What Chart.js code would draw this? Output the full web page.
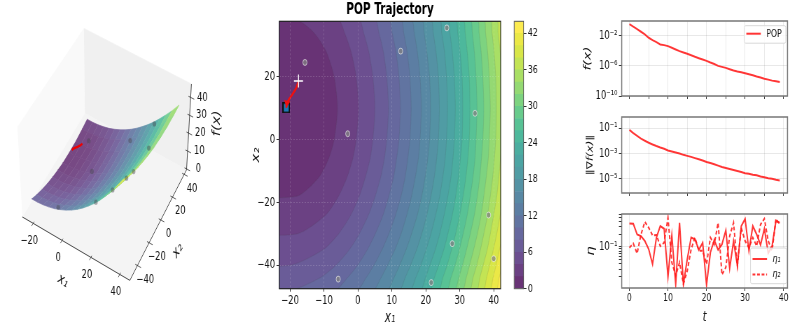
<!doctype html>
<html>
<head>
<meta charset="utf-8">
<title>POP Trajectory</title>
<script src="https://cdn.jsdelivr.net/npm/chart.js@4"></script>
<style>
html, body { margin: 0; background: #fff; overflow: hidden; width: 793px; height: 327px; }
/* the source figure is squeezed sideways and soft, so every panel is drawn wide and scaled down */
canvas { position: absolute; transform-origin: 0 0; transform: scaleX(0.7); filter: blur(0.35px); }
</style>
</head>
<body>
<script>
const SQ = 0.7;

// sampled particles (x1, x2) and their height on the surface
const particleX1 = [-15.6, 12.6, 26.2, 34.5, -3, 38.5, 27.8, 40, -5.8, 21.6];
const particleX2 = [24.6, 28.2, 35.6, 8.4, 1.9, -24, -33.1, -37.9, -44.4, -45.5];
const particleF = [0.8, 10.9, 21.4, 27.4, 3, 34.3, 25.7, 38.7, 9.3, 23.7];

// trajectory, start is the white cross, end is the blue square
const trajX1 = [-17.5, -18.2, -19.2, -20.2, -20.9, -21.1];
const trajX2 = [18.7, 16.4, 14.6, 13, 11.6, 10.2];
const trajF = [1.9, 1.9, 1.9, 1.9, 1.9, 1.9];

const t = [...Array(40).keys()];
const popF = [3.6e-1, 1.6e-1, 7.8e-2, 3.4e-2, 1.5e-2, 5.4e-3, 2.6e-3, 1.4e-3, 6.9e-4, 5.7e-4,
  4.2e-4, 2.5e-4, 1.5e-4, 9.1e-5, 6.0e-5, 4.0e-5, 2.6e-5, 1.6e-5, 1.05e-5, 6.9e-6,
  4.6e-6, 2.8e-6, 1.8e-6, 1.0e-6, 7.4e-7, 5.4e-7, 3.6e-7, 2.4e-7, 1.75e-7, 1.4e-7,
  1.05e-7, 7.8e-8, 5.7e-8, 3.8e-8, 2.8e-8, 2.0e-8, 1.5e-8, 1.1e-8, 9.1e-9, 7.4e-9];
const popGrad = [7.4e-2, 4.0e-2, 2.45e-2, 1.48e-2, 1.02e-2, 7.1e-3, 5.2e-3, 3.9e-3, 3.0e-3, 2.4e-3,
  1.74e-3, 1.45e-3, 1.2e-3, 1.0e-3, 7.8e-4, 6.5e-4, 5.4e-4, 4.3e-4, 3.5e-4, 2.8e-4,
  2.1e-4, 1.8e-4, 1.4e-4, 1.1e-4, 8.5e-5, 7.1e-5, 5.9e-5, 4.9e-5, 4.1e-5, 3.4e-5,
  2.8e-5, 2.5e-5, 2.1e-5, 1.9e-5, 1.5e-5, 1.35e-5, 1.1e-5, 1.0e-5, 8.3e-6, 7.4e-6];
const eta1 = [.359, .352, .198, .181, .138, .088, .039, .166, .311, .269,
  .0198, .188, .0133, .372, .0133, .051, .166, .151, .085, .126,
  .0126, .074, .146, .085, .115, .246, .031, .138, .036, .311,
  .461, .081, .311, .198, .111, .269, .071, .105, .407, .372];
const eta2 = [.096, .12, .07, .198, .392, .284, .188, .191, .105, .126,
  .487, .043, .021, .043, .0133, .027, .088, .166, .081, .081,
  .039, .166, .115, .372, .022, .033, .181, .372, .036, .284,
  .138, .096, .166, .105, .34, .461, .138, .081, .461, .34];

// contour lines: x1 position of each level along contourX2, null = off the left edge
const contourLevels = [2, 4, 6, 8, 10, 12, 14, 16, 18, 20, 22, 24, 26, 28, 30, 32, 34, 36, 38, 40, 42, 44];
const contourX2 = [-48, -44, -40, -35, -30, -24, -18, -12, -6, 0, 10, 20, 28, 34, 38];
const contourX1 = [
  [null, null, null, null, null, null, -18, -11.5, -8.6, -7, -6, -7, -9.3, -12.9, -18],
  [null, null, null, null, -18, -9.5, -5.7, -3.2, -1.5, -.5, .2, -.5, -2, -3.9, -5.7],
  [null, null, -20, -10.2, -5.7, -2.1, .4, 2.2, 3.6, 4.4, 5, 4.4, 3.2, 1.7, .4],
  [-20, -11.2, -6.5, -2.5, .4, 3.1, 5.1, 6.7, 7.8, 8.5, 9, 8.5, 7.5, 6.2, 5.1],
  [-6.9, -3.1, -.1, 2.8, 5.1, 7.4, 9.1, 10.5, 11.4, 12.1, 12.5, 12.1, 11.2, 10.1, 9.1],
  [-.4, 2.4, 4.7, 7.1, 9.1, 11.1, 12.7, 13.9, 14.7, 15.3, 15.7, 15.3, 14.5, 13.5, 12.7],
  [4.4, 6.8, 8.7, 10.9, 12.7, 14.4, 15.8, 16.9, 17.8, 18.3, 18.7, 18.3, 17.5, 16.6, 15.8],
  [8.5, 10.6, 12.3, 14.2, 15.8, 17.5, 18.8, 19.8, 20.6, 21.1, 21.4, 21.1, 20.3, 19.5, 18.8],
  [12.1, 13.9, 15.5, 17.3, 18.8, 20.3, 21.5, 22.5, 23.2, 23.7, 24, 23.7, 23, 22.2, 21.5],
  [15.3, 17, 18.5, 20.1, 21.5, 22.9, 24.1, 25, 25.7, 26.1, 26.4, 26.1, 25.5, 24.7, 24.1],
  [18.3, 19.9, 21.2, 22.8, 24.1, 25.4, 26.5, 27.4, 28, 28.4, 28.7, 28.4, 27.8, 27.1, 26.5],
  [21.1, 22.5, 23.8, 25.3, 26.5, 27.8, 28.8, 29.6, 30.2, 30.7, 30.9, 30.7, 30.1, 29.4, 28.8],
  [23.7, 25, 26.3, 27.6, 28.8, 30, 31, 31.8, 32.4, 32.8, 33, 32.8, 32.2, 31.6, 31],
  [26.1, 27.4, 28.6, 29.9, 31, 32.2, 33.1, 33.9, 34.5, 34.8, 35.1, 34.8, 34.3, 33.7, 33.1],
  [28.4, 29.7, 30.8, 32, 33.1, 34.3, 35.2, 35.9, 36.4, 36.8, 37.1, 36.8, 36.3, 35.7, 35.2],
  [30.7, 31.9, 32.9, 34.1, 35.2, 36.3, 37.1, 37.8, 38.4, 38.7, 39, 38.7, 38.2, 37.6, 37.1],
  [32.8, 33.9, 35, 36.1, 37.1, 38.2, 39, 39.7, 40.2, 40.6, 40.8, 40.6, 40.1, 39.5, 39],
  [34.9, 35.9, 36.9, 38.1, 39, 40, 40.9, 41.5, 42, 42.4, 42.6, 42.4, 41.9, 41.3, 40.9],
  [36.8, 37.9, 38.8, 39.9, 40.9, 41.9, 42.7, 43.3, 43.8, 44.1, 44.3, 44.1, 43.7, 43.1, 42.7],
  [38.7, 39.8, 40.7, 41.7, 42.7, 43.6, 44.4, 45, 45.5, 45.8, 46, 45.8, 45.4, 44.8, 44.4],
  [40.6, 41.6, 42.5, 43.5, 44.4, 45.3, 46.1, 46.7, 47.2, 47.5, 47.7, 47.5, 47, 46.5, 46.1],
  [60, 60, 60, 60, 60, 60, 60, 60, 60, 60, 60, 60, 60, 60, 60]
];

// surface heights for the 3d view, one row per surfaceX2 value
const surfaceX1 = [-23, -19, -15, -11, -7, -3, 1, 5, 9, 13, 17, 21, 25, 29, 33, 37, 42];
const surfaceX2 = [-47.5, -40, -32, -24, -16, -8, 0, 10, 20, 30, 37.7];
const surfaceF = [
  [8.1, 8.1, 8.4, 9, 9.8, 11, 12.4, 14.1, 16.1, 18.4, 21, 23.8, 26.9, 30.4, 34.1, 38, 43.4],
  [6.1, 6.1, 6.4, 7, 7.8, 9, 10.4, 12.1, 14.1, 16.4, 19, 21.8, 24.9, 28.4, 32.1, 36, 41.4],
  [4.3, 4.3, 4.6, 5.2, 6, 7.2, 8.6, 10.3, 12.3, 14.6, 17.2, 20, 23.1, 26.6, 30.3, 34.2, 39.6],
  [2.8, 2.8, 3.1, 3.7, 4.5, 5.7, 7.1, 8.8, 10.8, 13.1, 15.7, 18.5, 21.6, 25.1, 28.8, 32.7, 38.1],
  [1.7, 1.7, 2, 2.6, 3.4, 4.6, 6, 7.7, 9.7, 12, 14.6, 17.4, 20.5, 24, 27.7, 31.6, 37],
  [.8, .8, 1.1, 1.7, 2.5, 3.7, 5.1, 6.8, 8.8, 11.1, 13.7, 16.5, 19.6, 23.1, 26.8, 30.7, 36.1],
  [.2, .2, .5, 1.1, 1.9, 3.1, 4.5, 6.2, 8.2, 10.5, 13.1, 15.9, 19, 22.5, 26.2, 30.1, 35.5],
  [0, 0, .3, .9, 1.7, 2.9, 4.3, 6, 8, 10.3, 12.9, 15.7, 18.8, 22.3, 26, 29.9, 35.3],
  [.2, .2, .5, 1.1, 1.9, 3.1, 4.5, 6.2, 8.2, 10.5, 13.1, 15.9, 19, 22.5, 26.2, 30.1, 35.5],
  [1, 1, 1.3, 1.9, 2.7, 3.9, 5.3, 7, 9, 11.3, 13.9, 16.7, 19.8, 23.3, 27, 30.9, 36.3],
  [1.9, 1.9, 2.2, 2.8, 3.6, 4.8, 6.2, 7.9, 9.9, 12.2, 14.8, 17.6, 20.7, 24.2, 27.9, 31.8, 37.2]
];

const x1Ticks = [-20, -10, 0, 10, 20, 30, 40];
const x2Ticks = [-40, -20, 0, 20];
const barTicks = [0, 6, 12, 18, 24, 30, 36, 42];
const x1Ticks3d = [-20, 0, 20, 40];
const x2Ticks3d = [-40, -20, 0, 20, 40];
const zTicks3d = [0, 10, 20, 30, 40];
const tTicksTop = [0, 5, 10, 15, 20, 25, 30, 35, 40];
const tTicksBottom = [0, 10, 20, 30, 40];
const fTicks = [1e-2, 1e-6, 1e-10];
const gradTicks = [1e-1, 1e-3, 1e-5];
const etaTicks = [.02, .03, .04, .05, .06, .07, .08, .09, .1, .2, .3, .4, .5, .6];

const viridis = ['#440154', '#471365', '#482475', '#463480', '#414487', '#3b528b', '#355f8d', '#2f6c8e',
  '#2a788e', '#25848e', '#218f8d', '#1f9a8a', '#22a884', '#2fb47c', '#44bf70', '#5ec962',
  '#7ad151', '#95d840', '#b5de2b', '#d0e11c', '#e7e419', '#fde725'];

const FONT = '"DejaVu Sans", sans-serif';
const INK = '#141414';
const RED = 'rgba(255, 25, 25, 0.88)';

// alpha over white, opaque so the nested bands do not add up
function fade(hex, alpha) {
  const n = parseInt(hex.slice(1), 16);
  return [n >> 16, (n >> 8) & 255, n & 255].map(v => Math.round(v * alpha + 250 * (1 - alpha)));
}
const bandColors = viridis.map(h => 'rgb(' + fade(h, 0.8).join(',') + ')');

function colorOf(f) {
  const p = Math.min(Math.max(f / 44 * 21, 0), 20.999);
  const i = Math.floor(p);
  const a = fade(viridis[i], 0.72), b = fade(viridis[i + 1], 0.72);
  const c = a.map((v, k) => Math.round(v + (b[k] - v) * (p - i)));
  return 'rgb(' + c.join(',') + ')';
}

function minus(v) {
  return String(v).replace('-', '\u2212');
}

// left, top, w, h are real page pixels; the canvas itself is w / SQ wide
function addCanvas(left, top, w, h) {
  const c = document.createElement('canvas');
  c.width = Math.round(w / SQ);
  c.height = h;
  c.style.left = left + 'px';
  c.style.top = top + 'px';
  c.style.width = c.width + 'px';
  c.style.height = h + 'px';
  document.body.appendChild(c);
  return c;
}

function framePlugin(color, width) {
  return {
    id: 'frame',
    afterDraw(chart) {
      const a = chart.chartArea, ctx = chart.ctx;
      ctx.save();
      ctx.strokeStyle = color;
      ctx.lineWidth = width;
      ctx.strokeRect(a.left, a.top, a.right - a.left, a.bottom - a.top);
      ctx.restore();
    }
  };
}

function textPlugin(items) {
  return {
    id: 'textMarks',
    afterDraw(chart) {
      const ctx = chart.ctx;
      items.forEach(it => {
        ctx.save();
        ctx.translate(chart.scales.x.getPixelForValue(it.x), chart.scales.y.getPixelForValue(it.y));
        ctx.rotate((it.rot || 0) * Math.PI / 180);
        ctx.font = (it.style || '') + ' ' + (it.size || 12) + 'px ' + FONT;
        ctx.fillStyle = INK;
        ctx.textAlign = 'center';
        ctx.textBaseline = 'middle';
        ctx.fillText(it.text, 0, 0);
        ctx.restore();
      });
    }
  };
}

function legendPlugin(box, rows) {
  return {
    id: 'legendBox',
    afterDraw(chart) {
      if (!rows.length) return;
      const ctx = chart.ctx, a = chart.chartArea;
      ctx.save();
      ctx.fillStyle = 'rgba(255,255,255,0.8)';
      ctx.strokeStyle = '#d8d8d8';
      ctx.lineWidth = 1;
      const bx = a.right - (box.right + box.w) / SQ, by = a.top + box.top;
      ctx.beginPath();
      ctx.roundRect(bx, by, box.w / SQ, box.h, 2);
      ctx.fill();
      ctx.stroke();
      rows.forEach((r, i) => {
        const y = by + box.first + i * box.gap;
        ctx.strokeStyle = RED;
        ctx.lineWidth = 2;
        ctx.setLineDash(r.dash || []);
        ctx.beginPath();
        ctx.moveTo(bx + 2 / SQ, y);
        ctx.lineTo(bx + 16.5 / SQ, y);
        ctx.stroke();
        ctx.setLineDash([]);
        ctx.fillStyle = INK;
        ctx.font = (r.style || '') + ' 11px ' + FONT;
        ctx.textBaseline = 'middle';
        ctx.fillText(r.text, bx + 22 / SQ, y);
      });
      ctx.restore();
    }
  };
}

// fixed axis sizes so the plot frames land where they do in the picture
function fixWidth(w) {
  return s => { s.width = w; s.paddingTop = 0; s.paddingBottom = 0; };
}
function fixHeight(h) {
  return s => { s.height = h; s.paddingLeft = 0; s.paddingRight = 0; };
}

// ---- 3d panel: box fitted to the axes of the picture, trilinear between its corners
const limX1 = [-27.5, 47];
const limX2 = [-53, 44];
const limZ = [-0.5, 47.5];
const boxFloor = [[20, 218.3], [130, 283.3], [188, 170], [84, 112]];
const boxTop = [[15, 126], [126, 181], [193, 82], [83, 25]];

function project(x1, x2, z) {
  const u = (x1 - limX1[0]) / (limX1[1] - limX1[0]);
  const v = (x2 - limX2[0]) / (limX2[1] - limX2[0]);
  const w = (z - limZ[0]) / (limZ[1] - limZ[0]);
  const at = (c, k) => (1 - u) * (1 - v) * c[0][k] + u * (1 - v) * c[1][k] + u * v * c[2][k] + (1 - u) * v * c[3][k];
  return { x: at(boxFloor, 0) * (1 - w) + at(boxTop, 0) * w, y: at(boxFloor, 1) * (1 - w) + at(boxTop, 1) * w };
}

function polygon(pts, color) {
  return { data: pts, showLine: true, fill: 'shape', backgroundColor: color, borderColor: color, borderWidth: 0.7, pointRadius: 0 };
}
function stroke(pts, color, width) {
  return { data: pts, showLine: true, fill: false, borderColor: color, borderWidth: width, pointRadius: 0 };
}

function draw3d() {
  const list = [];
  const [xa, xb] = limX1, [ya, yb] = limX2, [za, zb] = limZ;
  list.push(polygon([project(xa, ya, za), project(xa, yb, za), project(xa, yb, zb), project(xa, ya, zb)], '#f9f9f9'));
  list.push(polygon([project(xa, yb, za), project(xb, yb, za), project(xb, yb, zb), project(xa, yb, zb)], '#f0f0f0'));
  list.push(polygon([project(xa, ya, za), project(xb, ya, za), project(xb, yb, za), project(xa, yb, za)], '#f4f4f4'));

  // back to front: far x2 rows first, low x1 first
  for (let r = surfaceX2.length - 2; r >= 0; r--) {
    for (let c = 0; c < surfaceX1.length - 1; c++) {
      const mean = (surfaceF[r][c] + surfaceF[r][c + 1] + surfaceF[r + 1][c] + surfaceF[r + 1][c + 1]) / 4;
      list.push(polygon([
        project(surfaceX1[c], surfaceX2[r], surfaceF[r][c]),
        project(surfaceX1[c + 1], surfaceX2[r], surfaceF[r][c + 1]),
        project(surfaceX1[c + 1], surfaceX2[r + 1], surfaceF[r + 1][c + 1]),
        project(surfaceX1[c], surfaceX2[r + 1], surfaceF[r + 1][c])
      ], colorOf(mean)));
    }
  }

  list.push({
    data: particleX1.map((x, i) => project(x, particleX2[i], particleF[i])),
    pointRadius: 2.6, pointBackgroundColor: 'rgba(70,70,80,0.45)', pointBorderWidth: 0
  });
  list.push(stroke(trajX1.map((x, i) => project(x, trajX2[i], trajF[i])), '#f00000', 2.4));

  list.push(stroke([project(xa, ya, za), project(xb, ya, za), project(xb, yb, za), project(xb, yb, zb)], '#333', 0.9));
  const labels = [];
  x1Ticks3d.forEach(v => {
    list.push(stroke([project(v, ya + 1.5, za), project(v, ya - 2.5, za)], '#333', 0.8));
    const p = project(v, ya, za);
    labels.push({ text: minus(v), x: p.x - 4, y: p.y + 18 });
  });
  x2Ticks3d.forEach(v => {
    list.push(stroke([project(xb - 1.5, v, za), project(xb + 2.5, v, za)], '#333', 0.8));
    const p = project(xb, v, za);
    labels.push({ text: minus(v), x: p.x + 8, y: p.y + 14.5 });
  });
  zTicks3d.forEach(v => {
    list.push(stroke([project(xb - 1.5, yb, v), project(xb + 2.5, yb, v)], '#333', 0.8));
    const p = project(xb, yb, v);
    labels.push({ text: String(v), x: p.x + 12, y: p.y });
  });
  labels.push({ text: 'x\u2081', x: 61.7, y: 284, rot: 24, size: 15, style: 'italic' });
  labels.push({ text: 'x\u2082', x: 179, y: 252.7, rot: -50, size: 15, style: 'italic' });
  labels.push({ text: 'f(x)', x: 219, y: 122.3, rot: -90, size: 15, style: 'italic' });

  list.forEach((d, i) => { d.order = list.length - i; });

  new Chart(addCanvas(0, 0, 250, 327), {
    type: 'scatter',
    data: { datasets: list },
    options: {
      responsive: false,
      animation: false,
      devicePixelRatio: 1,
      layout: { padding: 0 },
      plugins: { legend: { display: false }, tooltip: { enabled: false } },
      scales: {
        x: { display: false, min: 0, max: 250 },
        y: { display: false, min: 0, max: 327, reverse: true }
      }
    },
    plugins: [textPlugin(labels)]
  });
}

// ---- contour panel
function squareMarker() {
  const c = document.createElement('canvas');
  c.width = 11;
  c.height = 11;
  const g = c.getContext('2d');
  g.fillStyle = '#111';
  g.fillRect(0, 0, 11, 11);
  g.fillStyle = '#1f77b4';
  g.fillRect(2, 1.5, 7, 8);
  return c;
}

function drawContour() {
  const list = [];
  list.push({
    data: [{ x: trajX1[0], y: trajX2[0] }],
    pointStyle: 'cross', pointRadius: 6.5, pointBorderColor: '#fff', pointBorderWidth: 1.4
  });
  list.push({
    data: trajX1.map((x, i) => ({ x: x, y: trajX2[i] })),
    showLine: true, borderColor: '#ee1111', borderWidth: 2.6, tension: 0.3,
    pointStyle: 'triangle', pointRotation: 190,
    pointRadius: trajX1.map((x, i) => (i === trajX1.length - 2 ? 5 : 0)),
    pointBackgroundColor: '#ee1111', pointBorderWidth: 0
  });
  list.push({
    data: [{ x: trajX1[trajX1.length - 1], y: trajX2[trajX2.length - 1] }],
    pointStyle: squareMarker()
  });
  list.push({
    data: particleX1.map((x, i) => ({ x: x, y: particleX2[i] })),
    pointRadius: 3, pointBackgroundColor: 'rgba(130,130,130,0.75)',
    pointBorderColor: 'rgba(255,255,255,0.6)', pointBorderWidth: 1
  });
  contourLevels.forEach((level, i) => {
    const kept = [];
    contourX2.forEach((y, k) => {
      if (contourX1[i][k] !== null) kept.push({ x: contourX1[i][k], y: y });
    });
    // close the region along the left edge, level with where the line leaves the plot
    const pts = [{ x: -40, y: kept[0].y }, ...kept, { x: -40, y: kept[kept.length - 1].y }];
    list.push({
      label: String(level), data: pts, showLine: true, fill: 'shape', tension: 0.25,
      backgroundColor: bandColors[i], borderColor: 'rgba(70,70,70,0.18)', borderWidth: 0.7, pointRadius: 0
    });
  });

  const gridX = { color: 'rgba(255,255,255,0.16)', tickColor: '#333', tickLength: 3, z: 1 };
  const gridY = { color: 'rgba(255,255,255,0.16)', tickColor: '#333', tickLength: 4, z: 1 };
  new Chart(addCanvas(250, 0, 256, 327), {
    type: 'scatter',
    data: { datasets: list },
    options: {
      responsive: false,
      animation: false,
      devicePixelRatio: 1,
      layout: { padding: { right: 5.3 / SQ } },
      plugins: {
        legend: { display: false },
        tooltip: { enabled: false },
        title: {
          display: true, text: 'POP Trajectory', color: '#000', fullSize: false,
          font: { family: FONT, size: 15, weight: 'bold', lineHeight: 1.2 },
          padding: { top: 1, bottom: 2.3 }
        }
      },
      scales: {
        x: {
          min: -23.15, max: 42.06,
          afterBuildTicks: s => { s.ticks = x1Ticks.map(v => ({ value: v })); },
          afterFit: fixHeight(38.3),
          grid: gridX,
          border: { display: false, dash: [2, 2] },
          ticks: { color: INK, font: { family: FONT, size: 12 }, maxRotation: 0, autoSkip: false, padding: 2, callback: v => minus(v) },
          title: { display: true, text: 'x\u2081', color: INK, font: { family: FONT, size: 15, style: 'italic' }, padding: { top: 1, bottom: 0 } }
        },
        y: {
          min: -47.45, max: 37.7,
          afterBuildTicks: s => { s.ticks = x2Ticks.map(v => ({ value: v })); },
          afterFit: fixWidth(29.3 / SQ),
          grid: gridY,
          border: { display: false, dash: [2, 2] },
          ticks: { color: INK, font: { family: FONT, size: 12 }, autoSkip: false, padding: 2, callback: v => minus(v) },
          title: { display: true, text: 'x\u2082', color: INK, font: { family: FONT, size: 15, style: 'italic' }, padding: { top: 0, bottom: 0 } }
        }
      }
    },
    plugins: [framePlugin('#222', 1.2)]
  });
}

function drawColorbar() {
  const datasets = contourLevels.map((level, i) => ({
    data: [level - (i === 0 ? 0 : contourLevels[i - 1])],
    backgroundColor: bandColors[i],
    barPercentage: 1, categoryPercentage: 1, borderWidth: 0
  }));
  new Chart(addCanvas(510, 0, 50, 327), {
    type: 'bar',
    data: { labels: [''], datasets: datasets },
    options: {
      responsive: false,
      animation: false,
      devicePixelRatio: 1,
      layout: { padding: { left: 4.3 / SQ, top: 21.3, bottom: 38.3 } },
      plugins: { legend: { display: false }, tooltip: { enabled: false } },
      scales: {
        x: { display: false, stacked: true },
        y: {
          position: 'right', stacked: true, min: 0, max: 44,
          afterBuildTicks: s => { s.ticks = barTicks.map(v => ({ value: v })); },
          afterFit: fixWidth(36 / SQ),
          grid: { drawOnChartArea: false, tickColor: '#333', tickLength: 4 },
          border: { display: false },
          ticks: { color: INK, font: { family: FONT, size: 11 }, autoSkip: false, padding: 2 }
        }
      }
    },
    plugins: [framePlugin('#555', 1)]
  });
}

// ---- right column
function drawSeries(cfg) {
  const h = cfg.bottom - cfg.top + 8 + cfg.xSpace;
  new Chart(addCanvas(580, cfg.top - 8, 213, Math.ceil(h)), {
    type: 'line',
    data: { labels: t, datasets: cfg.series.map(s => ({
      data: s.values.map((v, i) => ({ x: t[i], y: v })),
      borderColor: RED, borderWidth: 2, borderDash: s.dash || [], pointRadius: 0, tension: 0
    })) },
    options: {
      responsive: false,
      animation: false,
      devicePixelRatio: 1,
      layout: { padding: { top: 8, right: 5.3 / SQ } },
      plugins: { legend: { display: false }, tooltip: { enabled: false } },
      scales: {
        x: {
          type: 'linear', min: -2, max: 41,
          afterBuildTicks: s => { s.ticks = cfg.xTicks.map(v => ({ value: v })); },
          afterFit: fixHeight(cfg.xSpace),
          grid: { color: 'rgba(0,0,0,0.09)', tickColor: '#333', tickLength: 3 },
          border: { display: false },
          ticks: { display: cfg.xLabels, color: INK, font: { family: FONT, size: 11 }, maxRotation: 0, autoSkip: false, padding: 1 },
          title: { display: cfg.xLabels, text: 't', color: INK, font: { family: FONT, size: 14, style: 'italic' }, padding: 0 }
        },
        y: {
          type: 'logarithmic', min: cfg.min, max: cfg.max,
          afterBuildTicks: s => { s.ticks = cfg.yTicks.map(v => ({ value: v })); },
          afterFit: fixWidth(41.7 / SQ),
          grid: {
            color: c => (cfg.labels[c.tick.value] ? 'rgba(0,0,0,0.09)' : 'rgba(0,0,0,0)'),
            tickColor: '#333', tickLength: 4
          },
          border: { display: false },
          ticks: { color: INK, font: { family: FONT, size: 12 }, autoSkip: false, padding: 2, callback: v => cfg.labels[v] || '' },
          title: { display: true, text: cfg.yTitle, color: INK, font: { family: FONT, size: cfg.titleSize, style: 'italic' }, padding: { top: cfg.titlePad, bottom: 0 } }
        }
      }
    },
    plugins: [framePlugin('#777', 1.5), legendPlugin(cfg.box, cfg.rows)]
  });
}

draw3d();
drawContour();
drawColorbar();

drawSeries({
  top: 21, bottom: 95.7, xSpace: 9, min: 1e-10, max: 0.91,
  xTicks: tTicksTop, xLabels: false, yTicks: fTicks,
  labels: { 1e-2: '10\u207b\u00b2', 1e-6: '10\u207b\u2076', 1e-10: '10\u207b\u00b9\u2070' },
  yTitle: 'f(x)', titlePad: 3, titleSize: 14,
  series: [{ values: popF }],
  box: { w: 41.5, h: 17.5, top: 4.7, right: 1.7, first: 8, gap: 0 },
  rows: [{ text: 'POP' }]
});
drawSeries({
  top: 117.3, bottom: 192.3, xSpace: 9, min: 7.6e-7, max: 0.76,
  xTicks: tTicksTop, xLabels: false, yTicks: gradTicks,
  labels: { 1e-1: '10\u207b\u00b9', 1e-3: '10\u207b\u00b3', 1e-5: '10\u207b\u2075' },
  yTitle: '\u2016\u2207f(x)\u2016', titlePad: 8, titleSize: 12,
  series: [{ values: popGrad }],
  box: { w: 0, h: 0, top: 0, right: 0, first: 0, gap: 0 },
  rows: []
});
drawSeries({
  top: 214.3, bottom: 288.3, xSpace: 38, min: 0.0107, max: 0.6,
  xTicks: tTicksBottom, xLabels: true, yTicks: etaTicks,
  labels: { 0.1: '10\u207b\u00b9' },
  yTitle: '\u03b7', titlePad: 7, titleSize: 15,
  series: [{ values: eta1 }, { values: eta2, dash: [4, 2.5] }],
  box: { w: 36, h: 35.7, top: 34, right: 1, first: 11, gap: 15.4 },
  rows: [{ text: '\u03b7\u2081', style: 'italic' }, { text: '\u03b7\u2082', dash: [4, 2.5], style: 'italic' }]
});
</script>
</body>
</html>
